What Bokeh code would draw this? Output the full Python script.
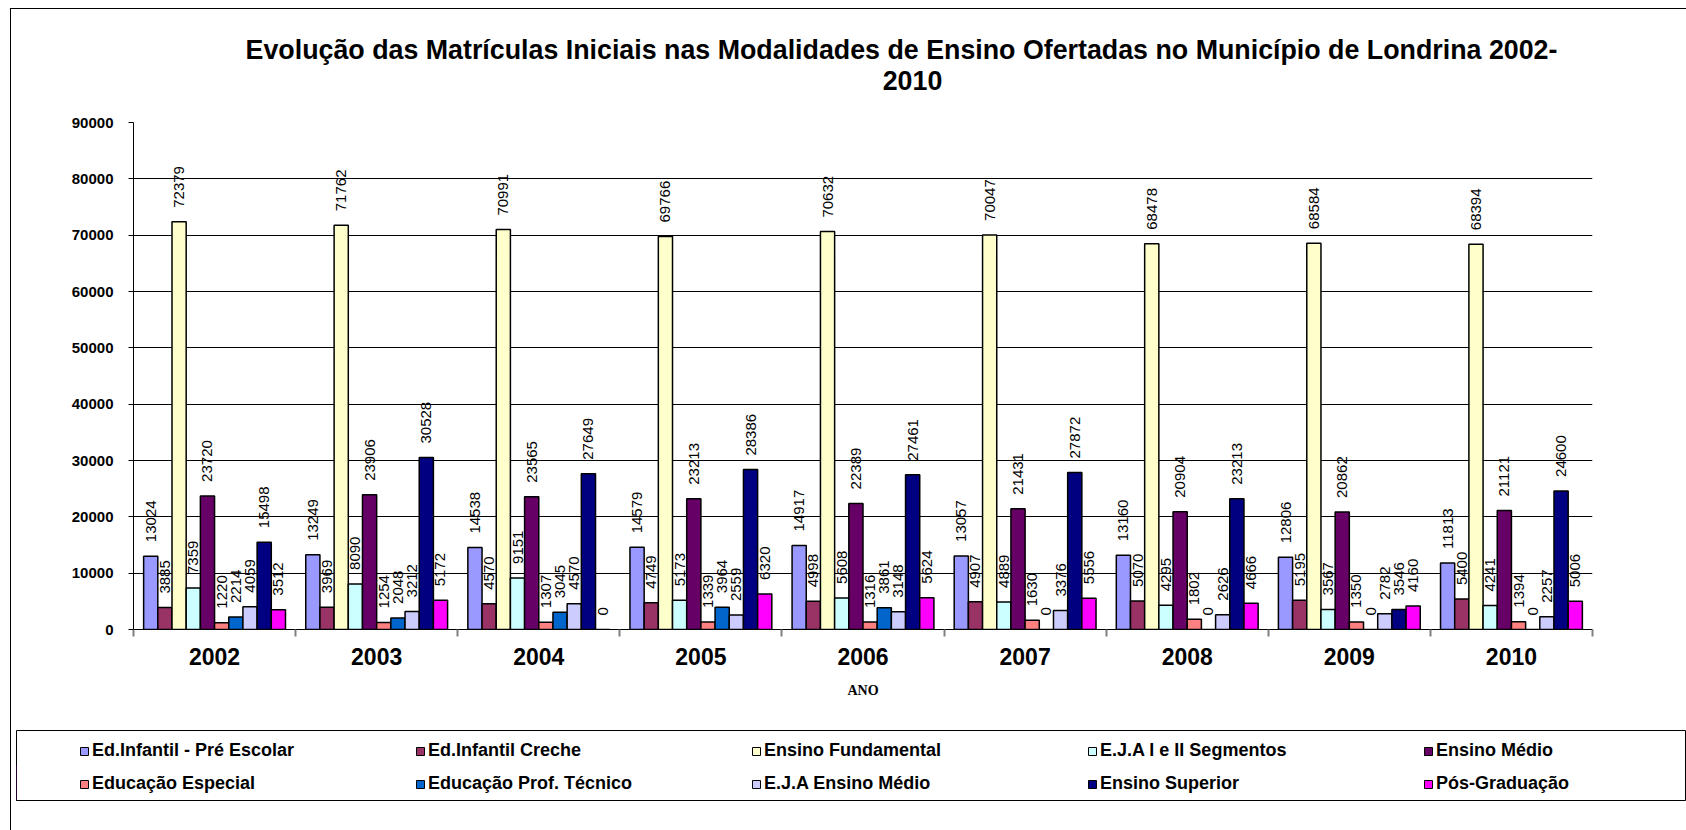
import numpy as np
from bokeh.plotting import figure
from bokeh.models import (ColumnDataSource, Range1d, FixedTicker, NumeralTickFormatter,
                          Legend, LegendItem, Label)
from bokeh.layouts import column
from bokeh.embed import file_html
from bokeh.resources import INLINE
from bokeh.core.properties import value

years = ["2002", "2003", "2004", "2005", "2006", "2007", "2008", "2009", "2010"]

series_names = [
    "Ed.Infantil - Pré Escolar",
    "Ed.Infantil Creche",
    "Ensino Fundamental",
    "E.J.A I e II Segmentos",
    "Ensino Médio",
    "Educação Especial",
    "Educação Prof. Técnico",
    "E.J.A Ensino Médio",
    "Ensino Superior",
    "Pós-Graduação",
]

pre_escolar = [13024, 13249, 14538, 14579, 14917, 13057, 13160, 12806, 11813]
creche = [3885, 3969, 4570, 4749, 4998, 4907, 5070, 5195, 5400]
fundamental = [72379, 71762, 70991, 69766, 70632, 70047, 68478, 68584, 68394]
eja_segmentos = [7359, 8090, 9151, 5173, 5608, 4889, 4295, 3567, 4241]
medio = [23720, 23906, 23565, 23213, 22389, 21431, 20904, 20862, 21121]
especial = [1220, 1254, 1307, 1339, 1316, 1630, 1802, 1350, 1394]
prof_tecnico = [2214, 2048, 3045, 3964, 3861, 0, 0, 0, 0]
eja_medio = [4059, 3212, 4570, 2559, 3148, 3376, 2626, 2782, 2257]
superior = [15498, 30528, 27649, 28386, 27461, 27872, 23213, 3546, 24600]
pos_graduacao = [3512, 5172, 0, 6320, 5624, 5556, 4666, 4160, 5006]

colors = ["#9999FF", "#993366", "#FFFFCC", "#CCFFFF", "#660066",
          "#FF8080", "#0066CC", "#CCCCFF", "#000080", "#FF00FF"]

y_ticks = list(range(0, 90001, 10000))

title_line1 = "Evolução das Matrículas Iniciais nas Modalidades de Ensino Ofertadas no Município de Londrina 2002-"
title_line2 = "2010"
x_title = "ANO"

series_values = [pre_escolar, creche, fundamental, eja_segmentos, medio,
                 especial, prof_tecnico, eja_medio, superior, pos_graduacao]

FONT = value("Liberation Sans")
n_years = len(years)
n_series = len(series_names)
bar_w = 0.0875
centers = np.arange(n_years) + 0.5

W = 1675
TH = 100  # height of the title strip

# ---- title strip (pixel-based ranges) ----
pt = figure(width=W, height=TH, x_range=Range1d(0, W), y_range=Range1d(0, TH),
            output_backend="svg", toolbar_location=None,
            x_axis_location=None, y_axis_location=None,
            min_border_left=0, min_border_right=0, min_border_top=0, min_border_bottom=0)
pt.frame_align = False
pt.grid.visible = False
pt.outline_line_color = None
for txt, sx, sy in [(title_line1, 890, 60), (title_line2, 901, 29)]:
    pt.add_layout(Label(text=txt, x=sx, y=sy,
                        text_align="center", text_baseline="middle",
                        text_font="Liberation Sans", text_color="black",
                        text_font_size="26.8px", text_font_style="bold"))

# ---- main chart ----
p = figure(width=W, height=721 - TH,
           x_range=Range1d(0, n_years), y_range=Range1d(0, 90000),
           output_backend="svg", toolbar_location=None,
           min_border_left=122, min_border_right=94,
           min_border_top=113 - TH, min_border_bottom=101)
p.frame_align = False
p.outline_line_color = None
p.background_fill_color = "white"
p.border_fill_color = "white"
p.xgrid.visible = False
p.ygrid.ticker = FixedTicker(ticks=y_ticks)
p.ygrid.grid_line_color = "black"
p.ygrid.grid_line_width = 1

for i, (name, vals, col) in enumerate(zip(series_names, series_values, colors)):
    xs = centers + (i - (n_series - 1) / 2) * bar_w
    src = ColumnDataSource(dict(x=xs, top=vals, label=[str(v) for v in vals]))
    p.vbar(x="x", top="top", bottom=0, width=bar_w, source=src,
           fill_color=col, line_color="black", line_width=1.5)
    p.text(x="x", y="top", text="label", source=src, angle=np.pi / 2,
           text_align="left", text_baseline="middle", y_offset=-14,
           text_font=FONT, text_font_size="15px", text_color="black")

# y axis
p.yaxis.ticker = FixedTicker(ticks=y_ticks)
p.yaxis.formatter = NumeralTickFormatter(format="0")
p.yaxis.major_label_text_font = "Liberation Sans"
p.yaxis.major_label_text_font_size = "15px"
p.yaxis.major_label_text_font_style = "bold"
p.yaxis.major_label_text_color = "black"
p.yaxis.major_label_standoff = 15
p.yaxis.major_tick_out = 5
p.yaxis.major_tick_in = 0
p.yaxis.minor_tick_out = 0
p.yaxis.minor_tick_in = 0
p.yaxis.axis_line_color = "black"
p.yaxis.major_tick_line_color = "black"

# x axis
p.xaxis.ticker = FixedTicker(ticks=list(centers), minor_ticks=list(range(0, n_years + 1)))
p.xaxis.major_label_overrides = {float(c): y for c, y in zip(centers, years)}
p.xaxis.major_tick_out = 0
p.xaxis.major_tick_in = 0
p.xaxis.minor_tick_out = 7
p.xaxis.minor_tick_in = 0
p.xaxis.minor_tick_line_color = "#808080"
p.xaxis.minor_tick_line_width = 2
p.xaxis.axis_line_color = "black"
p.xaxis.major_label_text_font = "Liberation Sans"
p.xaxis.major_label_text_font_size = "23px"
p.xaxis.major_label_text_font_style = "bold"
p.xaxis.major_label_text_color = "black"
p.xaxis.major_label_standoff = 11
p.xaxis.axis_label = x_title
p.xaxis.axis_label_text_font = "Liberation Serif"
p.xaxis.axis_label_text_font_size = "14px"
p.xaxis.axis_label_text_font_style = "bold"
p.xaxis.axis_label_text_color = "black"
p.xaxis.axis_label_standoff = 15

# ---- legend strip ----
pl = figure(width=W, height=100, x_range=Range1d(0, 1), y_range=Range1d(0, 1),
            output_backend="svg", toolbar_location=None,
            x_axis_location=None, y_axis_location=None,
            min_border_left=5, min_border_right=0, min_border_top=0, min_border_bottom=30)
pl.frame_align = False
pl.grid.visible = False
pl.outline_line_color = "black"
pl.outline_line_width = 1
items = []
for name, col in zip(series_names, colors):
    r = pl.vbar(x=[-5], top=[0.5], width=0.1, fill_color=col, line_color="black", line_width=1)
    items.append(LegendItem(label=name, renderers=[r]))
legend = Legend(items=items, orientation="horizontal", ncols=5, location=(63, 6),
                padding=0, margin=0, spacing=12,
                glyph_width=10, glyph_height=10, label_standoff=3,
                label_width=311, label_height=20,
                label_text_font="Liberation Sans", label_text_font_size="18px",
                label_text_font_style="bold", label_text_color="black",
                border_line_alpha=0, background_fill_alpha=0)
pl.add_layout(legend, "center")

layout = column(pt, p, pl, styles={"border-top": "1px solid black", "border-left": "1px solid black",
                                   "margin-left": "10px", "margin-top": "8px"})

open("out.html", "w").write(file_html(layout, INLINE))
